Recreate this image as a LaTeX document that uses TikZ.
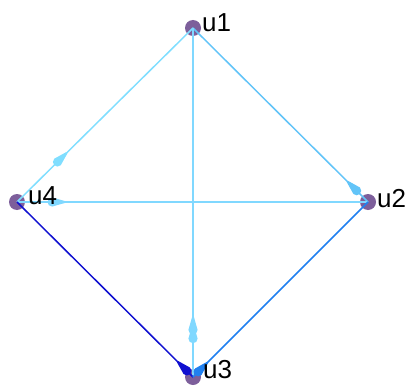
\documentclass[tikz,border=0pt]{standalone}
\usepackage{fontspec}
\setmainfont{Liberation Sans}
\usetikzlibrary{decorations.markings}
\definecolor{vpurple}{RGB}{125,95,155}
\definecolor{eA}{RGB}{128,222,255}
\definecolor{eB}{RGB}{98,196,248}
\definecolor{eC}{RGB}{128,216,255}
\definecolor{eD}{RGB}{16,16,208}
\definecolor{eE}{RGB}{32,128,240}
\tikzset{
  vert/.style={circle,fill=vpurple,minimum size=16pt,inner sep=0pt},
  vlabel/.style={anchor=south west,inner sep=0pt,font=\fontsize{26}{26}\selectfont},
  edge/.style={line width=1.5pt},
  tear/.style={postaction={decorate,decoration={markings,mark=at position #1 with {
      \fill (0,4.6) arc (90:-90:4.6) -- (-13,-0.9) -- (-13,0.9) -- cycle;}}}}
}
\begin{document}
\begin{tikzpicture}[x=1pt,y=-1pt]
\useasboundingbox (0,0) rectangle (409,385);
\node[vert] (u1) at (193,28) {};
\node[vert] (u2) at (368,202) {};
\node[vert] (u3) at (193,377) {};
\node[vert] (u4) at (17,202) {};
\draw[edge,eA,fill=eA,tear=0.77] (u1.center) -- (u4.center);
\draw[edge,eB,fill=eB,tear=0.935] (u1.center) -- (u2.center);
\draw[edge,eC,fill=eC,tear=0.89] (u1.center) -- (u3.center);
\draw[edge,eC,fill=eC,tear=0.865] (u1.center) -- (u3.center);
\draw[edge,eC,fill=eC,tear=0.9] (u2.center) -- (u4.center);
\draw[edge,eD,fill=eD,tear=0.965] (u4.center) -- (u3.center);
\draw[edge,eE,fill=eE,tear=0.97] (u2.center) -- (u3.center);
\node[vlabel] (l1) at (202,32) {u1};
\node[vlabel] (l2) at (377,208) {u2};
\node[vlabel] (l3) at (203,379) {u3};
\node[vlabel] (l4) at (28,205) {u4};
\end{tikzpicture}
\end{document}
